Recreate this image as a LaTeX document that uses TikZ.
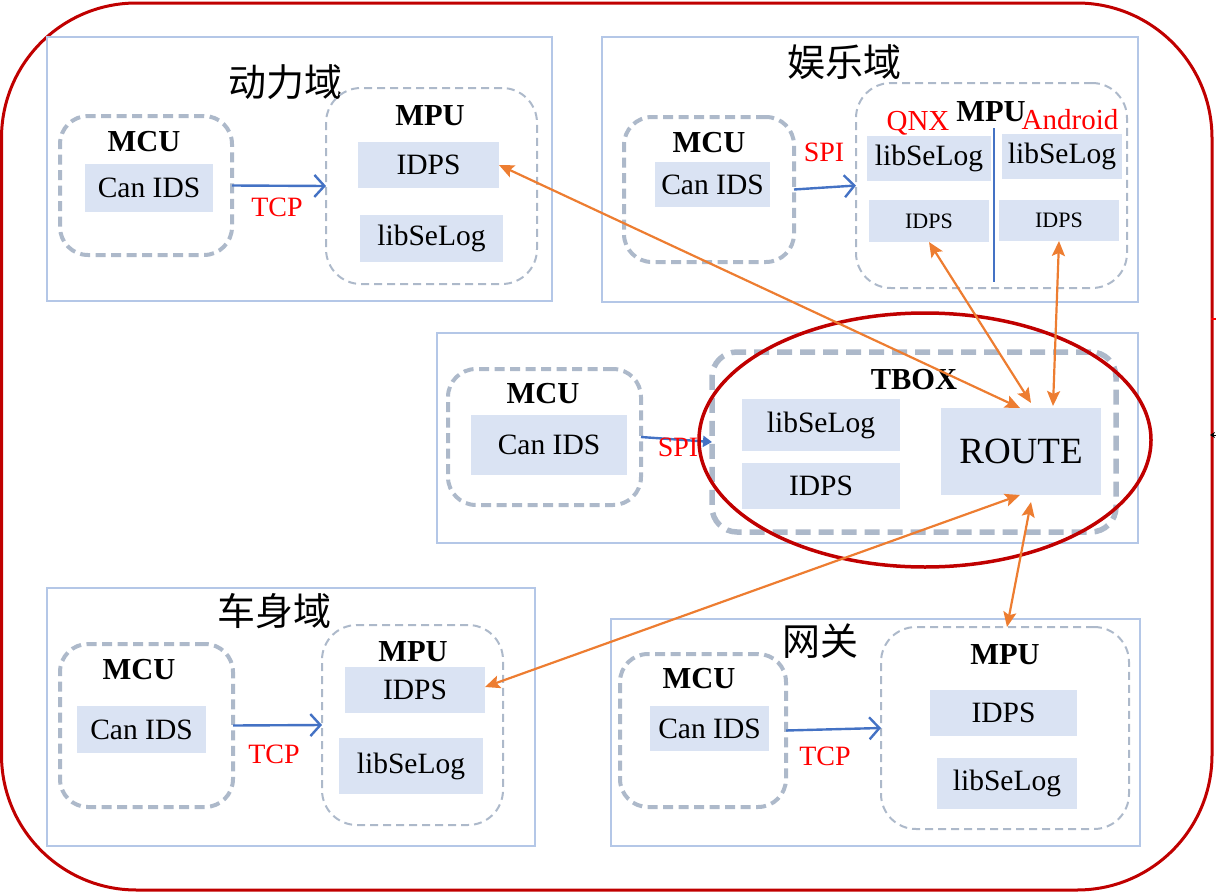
\documentclass[tikz,border=0pt]{standalone}
\usepackage{fontspec}
\setmainfont{Liberation Serif}
\newfontfamily\cjk{Noto Sans CJK SC}
\usetikzlibrary{arrows.meta,calc}

\definecolor{framered}{HTML}{C00000}
\definecolor{domainblue}{HTML}{B4C7E7}
\definecolor{dashgray}{HTML}{ADB9CA}
\definecolor{fillblue}{HTML}{DAE3F3}
\definecolor{linkblue}{HTML}{4472C4}
\definecolor{routeorange}{HTML}{ED7D31}
\definecolor{labelred}{HTML}{FF0000}

\begin{document}
\begin{tikzpicture}[x=1pt,y=-1pt,
  every node/.style={inner sep=0pt, outer sep=0pt},
  domainbox/.style={draw=domainblue, line width=2.2pt},
  mcubox/.style={draw=dashgray, line width=4pt, dash pattern=on 10pt off 5.5pt, rounded corners=28pt},
  mpubox/.style={draw=dashgray, line width=2pt, dash pattern=on 8pt off 5pt, rounded corners=35pt},
  tboxframe/.style={draw=dashgray, line width=5.5pt, dash pattern=on 15pt off 8pt, rounded corners=25pt},
  module/.style={fill=fillblue, font=\fontsize{29.5}{32}\selectfont},
  smallmodule/.style={fill=fillblue, font=\fontsize{22}{24}\selectfont},
  routemodule/.style={fill=fillblue, font=\fontsize{37}{40}\selectfont},
  unitlabel/.style={font=\bfseries\fontsize{30.5}{33}\selectfont},
  domaintitle/.style={font=\cjk\fontsize{38}{40}\selectfont},
  protolabel/.style={text=labelred, font=\fontsize{28}{30}\selectfont},
  oslabel/.style={text=labelred, font=\fontsize{29}{31}\selectfont},
  buslink/.style={draw=linkblue, line width=2.4pt,
    -{Straight Barb[length=10pt,width=22pt,line width=2.4pt]}},
  spilink/.style={draw=linkblue, line width=2.4pt,
    -{Triangle[length=9pt,width=11pt]}},
  routelink/.style={draw=routeorange, line width=2.2pt,
    {Stealth[length=15pt,width=13pt,inset=3pt]}-{Stealth[length=15pt,width=13pt,inset=3pt]}},
]
\useasboundingbox (0,0) rectangle (1216,894);

% outer vehicle frame
\draw[framered, line width=3pt, rounded corners=135pt] (1.5,3) rectangle (1212,890);

% domains
\node[domainbox, minimum width=505pt, minimum height=264pt] (d1) at (299.5,169) {};
\node[domainbox, minimum width=536pt, minimum height=265pt] (d2) at (870,169.5) {};
\node[domainbox, minimum width=701pt, minimum height=210pt] (d3) at (787.5,438) {};
\node[domainbox, minimum width=488pt, minimum height=258pt] (d4) at (291,717) {};
\node[domainbox, minimum width=529pt, minimum height=227pt] (d5) at (875.5,732.5) {};

\node[domaintitle] (t1) at (285,82) {动力域};
\node[domaintitle] (t2) at (844,62) {娱乐域};
\node[domaintitle] (t4) at (274,611) {车身域};
\node[domaintitle] (t5) at (820,641) {网关};

% MCU units
\node[mcubox, minimum width=172pt, minimum height=139pt] (m1) at (146,185.5) {};
\node[mcubox, minimum width=170pt, minimum height=145pt] (m2) at (709,189.5) {};
\node[mcubox, minimum width=193pt, minimum height=136pt] (m3) at (544.5,437) {};
\node[mcubox, minimum width=173pt, minimum height=163pt] (m4) at (146.5,725.5) {};
\node[mcubox, minimum width=166pt, minimum height=153pt] (m5) at (703,730.5) {};

\node[unitlabel] (m1l) at (144,142) {MCU};
\node[unitlabel] (m2l) at (709,143) {MCU};
\node[unitlabel] (m3l) at (543,394) {MCU};
\node[unitlabel] (m4l) at (139,670) {MCU};
\node[unitlabel] (m5l) at (699,679) {MCU};

\node[module, minimum width=128pt, minimum height=48pt] (m1can) at (149,188) {Can IDS};
\node[module, minimum width=115pt, minimum height=45pt] (m2can) at (712.5,184.5) {Can IDS};
\node[module, minimum width=156pt, minimum height=60pt] (m3can) at (549,445) {Can IDS};
\node[module, minimum width=129pt, minimum height=47pt] (m4can) at (141.5,729.5) {Can IDS};
\node[module, minimum width=119pt, minimum height=45pt] (m5can) at (709.5,728.5) {Can IDS};

% MPU units and TBOX
\node[mpubox, minimum width=211pt, minimum height=196pt] (p1) at (431.5,186) {};
\node[mpubox, minimum width=271pt, minimum height=205pt] (p2) at (991.5,185.5) {};
\node[tboxframe, minimum width=404pt, minimum height=180pt] (tb) at (914,442) {};
\node[mpubox, minimum width=181pt, minimum height=200pt] (p4) at (412.5,725) {};
\node[mpubox, minimum width=248pt, minimum height=202pt] (p5) at (1005,728) {};

\node[unitlabel] (p1l) at (430,116) {MPU};
\node[unitlabel] (p2l) at (991,112) {MPU};
\node[unitlabel] (tbl) at (914,380) {TBOX};
\node[unitlabel] (p4l) at (413,652) {MPU};
\node[unitlabel] (p5l) at (1005,655) {MPU};

\node[oslabel] (qnx) at (918,123) {QNX};
\node[oslabel] (android) at (1070,120) {Android};
\draw[linkblue, line width=1.5pt] (994,128) -- (994,282);

\node[module, minimum width=141pt, minimum height=46pt] (p1idps) at (428.5,165) {IDPS};
\node[module, minimum width=143pt, minimum height=47pt] (p1log) at (431.5,238.5) {libSeLog};

\node[module, minimum width=124pt, minimum height=45pt] (p2qlog) at (929,158.5) {libSeLog};
\node[module, minimum width=120pt, minimum height=45pt] (p2alog) at (1062,156.5) {libSeLog};
\node[smallmodule, minimum width=120pt, minimum height=42pt] (p2qidps) at (929,221) {IDPS};
\node[smallmodule, minimum width=120pt, minimum height=41pt] (p2aidps) at (1059,220.5) {IDPS};

\node[module, minimum width=158pt, minimum height=52pt] (tblog) at (821,425) {libSeLog};
\node[module, minimum width=158pt, minimum height=46pt] (tbidps) at (821,486) {IDPS};
\node[routemodule, minimum width=160pt, minimum height=87pt] (route) at (1021,451.5) {ROUTE};

\node[module, minimum width=140pt, minimum height=46pt] (p4idps) at (415,690) {IDPS};
\node[module, minimum width=144pt, minimum height=56pt] (p4log) at (411,766) {libSeLog};

\node[module, minimum width=147pt, minimum height=46pt] (p5idps) at (1003.5,713) {IDPS};
\node[module, minimum width=140pt, minimum height=51pt] (p5log) at (1007,783.5) {libSeLog};

% MCU to MPU buses
\draw[buslink] (m1.east) -- (p1.west);
\draw[buslink] (m2.east) -- (p2.west);
\draw[spilink] (m3.east) -- (tb.west);
\draw[buslink] (m4.east) -- (p4.west);
\draw[buslink] (m5.east) -- (p5.west);

\node[protolabel] (tcp1) at (277,207) {TCP};
\node[protolabel] (spi2) at (824,152) {SPI};
\node[protolabel] (spi3) at (678,447) {SPI};
\node[protolabel] (tcp4) at (274,754) {TCP};
\node[protolabel] (tcp5) at (825,756) {TCP};

% TBOX highlight
\draw[framered, line width=3.5pt] (925,440) ellipse [x radius=226pt, y radius=127pt];

% routing paths through the TBOX
\draw[routelink] (p1idps.east) -- ([xshift=-1pt]route.north);
\draw[routelink] (p2qidps.south) -- ([xshift=10pt,yshift=5pt]route.north);
\draw[routelink] (p2aidps.south) -- ([xshift=32pt,yshift=2pt]route.north);
\draw[routelink] ([xshift=-1pt]route.south) -- ([yshift=3pt]p4idps.east);
\draw[routelink] ([xshift=10pt,yshift=-7pt]route.south) -- ([xshift=2pt]p5.north);

% marks on the right margin
\coordinate (tickA) at (1211,319);
\coordinate (tickB) at (1216,319);
\draw[labelred, line width=2pt] (tickA) -- (tickB);
\coordinate (markA) at (1216,435);
\coordinate (markB) at (1210,435);
\draw[black, line width=0.8pt, -{Stealth[length=5pt,width=6pt]}] (markA) -- (markB);
\end{tikzpicture}
\end{document}
